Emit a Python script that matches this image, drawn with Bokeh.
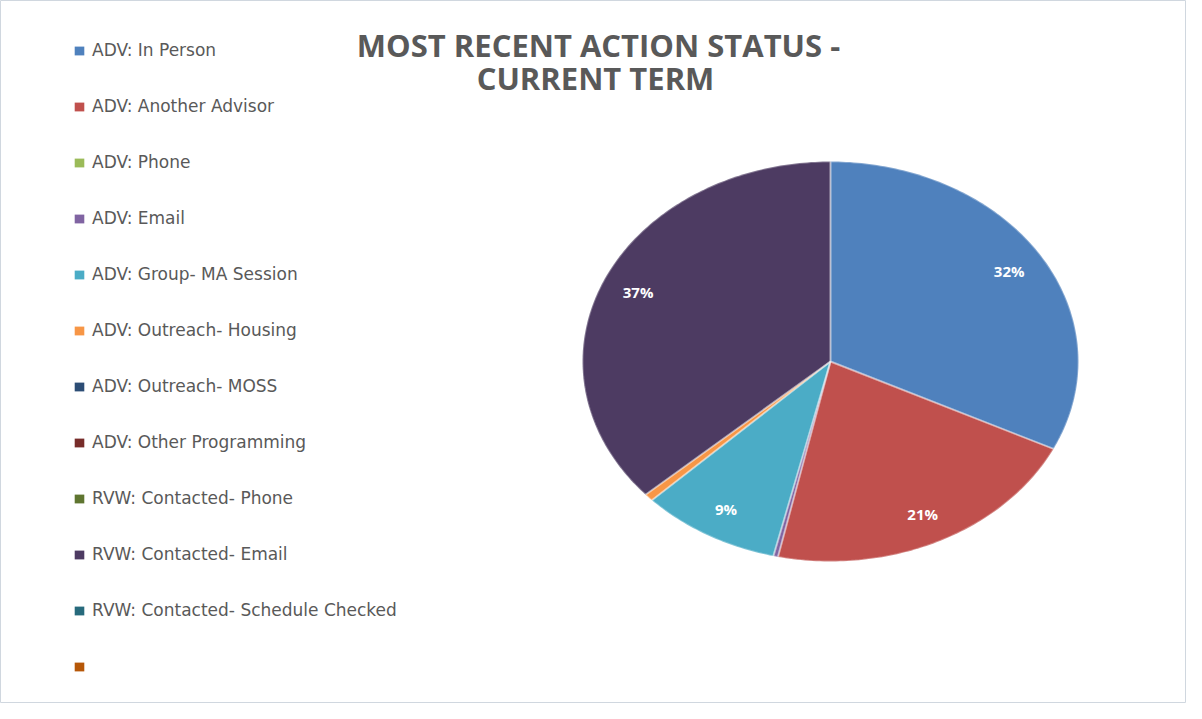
import math
from bokeh.plotting import figure
from bokeh.models import ColumnDataSource, Range1d, Legend, LegendItem, Label
from bokeh.core.properties import value
from bokeh.embed import file_html
from bokeh.resources import INLINE

categories = [
    "ADV: In Person",
    "ADV: Another Advisor",
    "ADV: Phone",
    "ADV: Email",
    "ADV: Group- MA Session",
    "ADV: Outreach- Housing",
    "ADV: Outreach- MOSS",
    "ADV: Other Programming",
    "RVW: Contacted- Phone",
    "RVW: Contacted- Email",
    "RVW: Contacted- Schedule Checked",
    "",
]
counts = [322, 212, 0, 3, 91, 6, 0, 0, 0, 366, 0, 0]
colors = ["#4F81BD", "#C0504D", "#9BBB59", "#8064A2", "#4BACC6", "#F79646",
          "#2C4D75", "#772C2A", "#5F7530", "#4D3B62", "#276A7C", "#B65708"]
title_lines = ["MOST RECENT ACTION STATUS -", "CURRENT TERM"]

total = float(sum(counts))
fracs = [c / total for c in counts]

# Build slices (clockwise from 12 o'clock) on a unit circle
xs, ys, lab_x, lab_y, lab_t = [], [], [], [], []
cum = 0.0
for f in fracs:
    a0 = math.pi / 2 - 2 * math.pi * cum
    a1 = math.pi / 2 - 2 * math.pi * (cum + f)
    if f > 0:
        n = max(2, int(abs(a1 - a0) / (2 * math.pi) * 400) + 2)
        px = [0.0] + [math.cos(a0 + (a1 - a0) * k / (n - 1)) for k in range(n)]
        py = [0.0] + [math.sin(a0 + (a1 - a0) * k / (n - 1)) for k in range(n)]
    else:
        px, py = [], []
    xs.append(px)
    ys.append(py)
    if f >= 0.05:
        am = (a0 + a1) / 2
        lab_x.append(0.85 * math.cos(am))
        lab_y.append(0.85 * math.sin(am))
        lab_t.append(f"{round(f * 100)}%")
    cum += f

src = ColumnDataSource(dict(xs=xs, ys=ys, color=colors, name=categories))

W, H = 1186, 703
cx, cy = 830, 361      # pie centre in figure pixels (from top-left)
rx, ry = 248, 200      # pixel radii (chart is stretched horizontally)

p = figure(width=W, height=H, output_backend="svg", toolbar_location=None,
           x_range=Range1d(-cx / rx, (W - cx) / rx),
           y_range=Range1d(-(H - cy) / ry, cy / ry),
           min_border=0, background_fill_color="white",
           border_fill_color="white")
p.axis.visible = False
p.grid.visible = False
p.outline_line_color = "#d0d7df"
p.outline_line_width = 1

r = p.patches("xs", "ys", source=src, fill_color="color", line_color=None)
p.patches("xs", "ys", source=src, fill_color=None, line_color="white",
          line_alpha=0.3, line_width=2)

p.text(x=lab_x, y=lab_y, text=lab_t, text_color="white",
       text_font=value("Open Sans"), text_font_style="bold",
       text_font_size="15px", text_align="center", text_baseline="middle")

items = [LegendItem(label=categories[i], renderers=[r], index=i)
         for i in range(len(categories))]
legend = Legend(items=items, location=(73, 27), orientation="vertical",
                glyph_width=12, glyph_height=11, label_height=20,
                spacing=36, padding=0, margin=0, label_standoff=7,
                border_line_color=None, background_fill_alpha=0,
                label_text_font="DejaVu Sans", label_text_font_size="17px",
                label_text_color="#595959")
p.add_layout(legend)

for txt, xx, yy in [(title_lines[0], 598, H - 44), (title_lines[1], 595, H - 77)]:
    p.add_layout(Label(x=xx, y=yy, x_units="screen", y_units="screen",
                       text=txt, text_align="center", text_baseline="middle",
                       text_font="Open Sans", text_font_style="bold",
                       text_font_size="31px", text_color="#595959"))

open("out.html", "w").write(file_html(p, INLINE))
